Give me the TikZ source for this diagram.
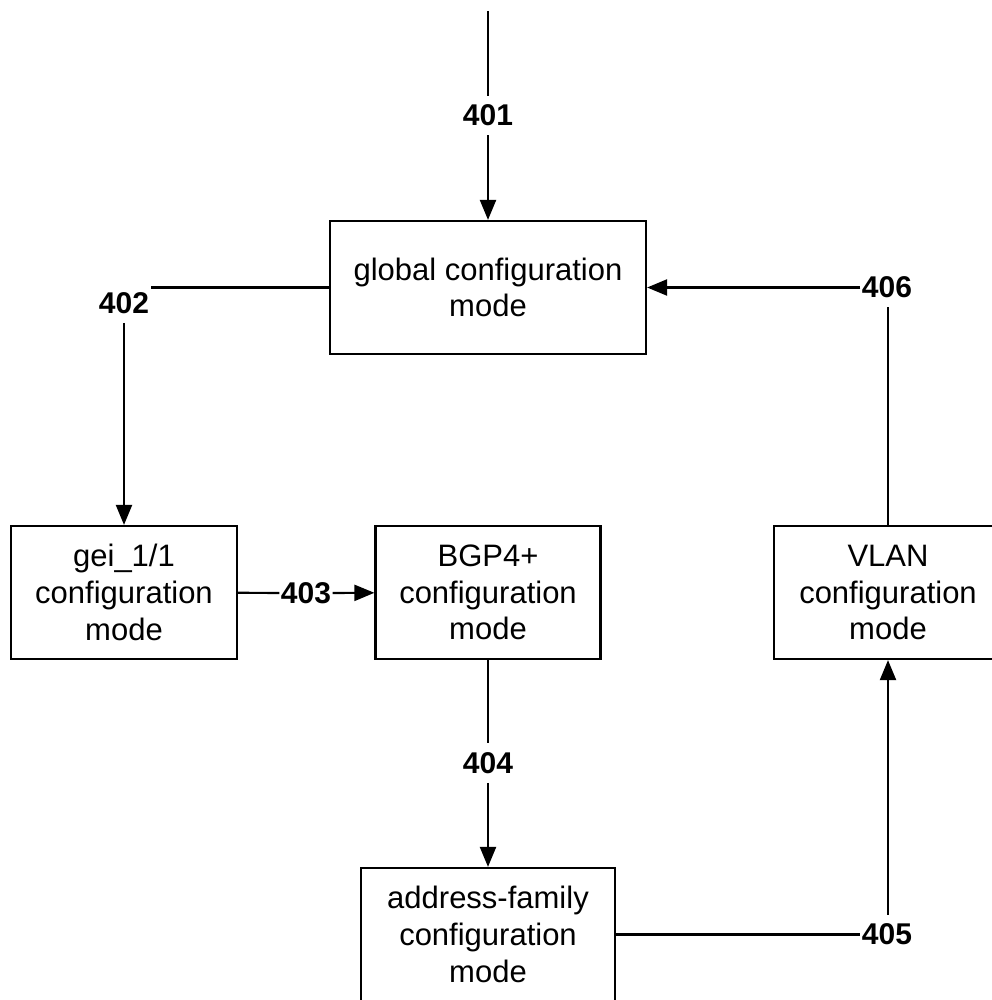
\documentclass[tikz,border=0pt]{standalone}
\usepackage{fontspec}
\setmainfont{Liberation Sans}
\usetikzlibrary{arrows.meta}
\begin{document}
\begin{tikzpicture}[x=1pt,y=-1pt,
  box/.style={draw, line width=2.2pt, minimum height=133pt, inner sep=0pt, align=center,
    font=\fontsize{31}{36.7}\selectfont},
  lbl/.style={inner xsep=1.5pt, inner ysep=9pt, font=\fontsize{30}{36}\selectfont\bfseries},
  conn/.style={line width=2.2pt},
  arr/.style={conn, -{Triangle[length=20pt,width=16pt]}}]
\useasboundingbox (0,0) rectangle (991,1000);
\node[box, minimum width=316pt] (glob) at (488,287.5) {global configuration\\mode};
\node[box, minimum width=226pt] (gei) at (124,592.5) {gei\_1/1\\configuration\\mode};
\node[box, minimum width=225pt] (bgp) at (488,592.5) {BGP4+\\configuration\\mode};
\node[box, minimum width=228pt] (vlan) at (888,592.5) {VLAN\\configuration\\mode};
\node[box, minimum width=254pt] (addr) at (488,934.5) {address-family\\configuration\\mode};
\coordinate (top) at (488,11);
\node[lbl] (l401) at (488,115.5) {401};
\node[lbl] (l402) at (124,303) {402};
\node[lbl] (l403) at (306,593) {403};
\node[lbl] (l404) at (488,763) {404};
\node[lbl] (l405) at (887,934.5) {405};
\node[lbl] (l406) at (887,287.5) {406};
\draw[conn] (top) -- (l401);
\draw[arr] (l401) -- (glob);
\draw[conn] (glob.west) -- (glob.west -| l402.east);
\draw[arr] (l402) -- (gei);
\draw[conn] (gei) -- (l403);
\draw[arr] (l403) -- (bgp);
\draw[conn] (bgp) -- (l404);
\draw[arr] (l404) -- (addr);
\draw[conn] (addr) -- (l405);
\draw[arr] (l405.north -| vlan.south) -- (vlan.south);
\draw[conn] (vlan.north) -- (vlan.north |- l406.south);
\draw[arr] (l406) -- (glob);
\end{tikzpicture}
\end{document}
